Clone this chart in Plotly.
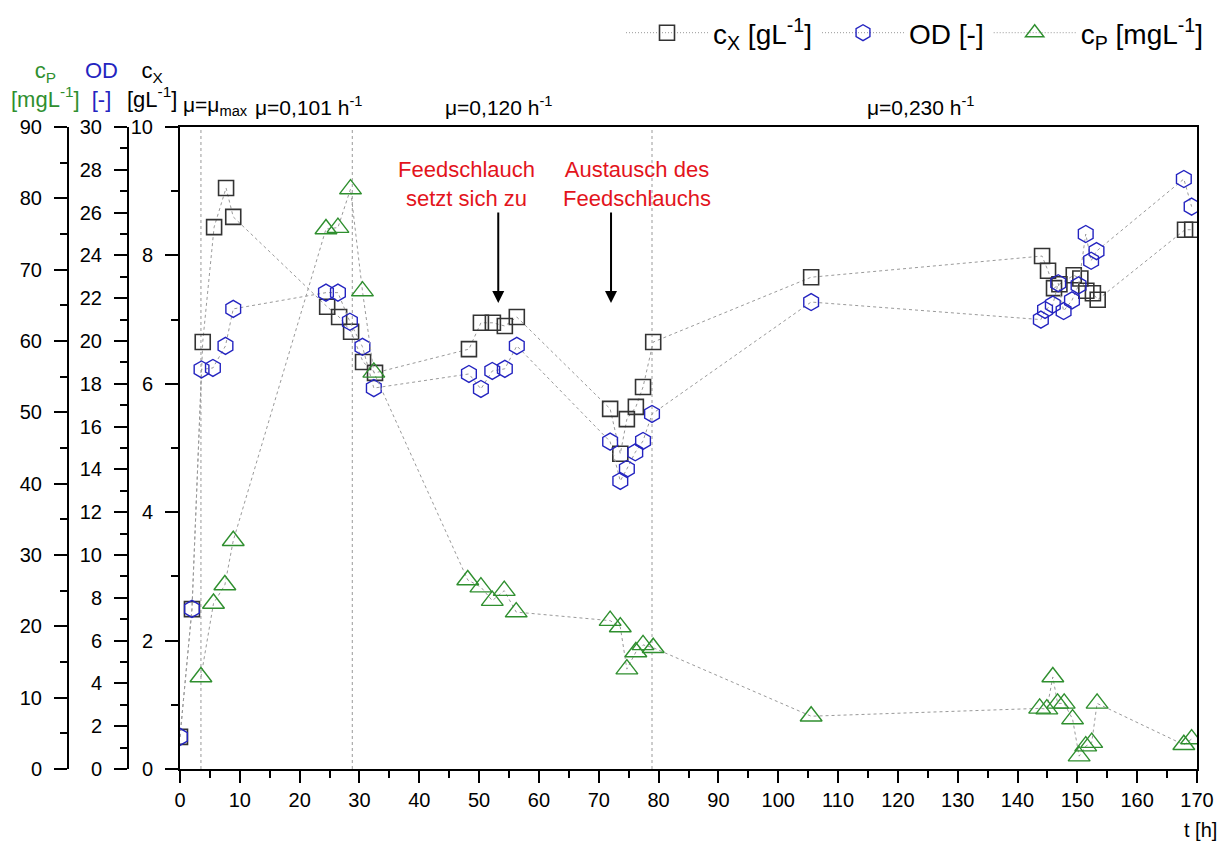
import plotly.graph_objects as go

# ---- data ----
t_cx = [0.0, 2.0, 3.8, 5.7, 7.7, 8.9, 24.6, 26.6, 28.6, 30.6, 32.6, 48.3, 50.3, 52.3, 54.3, 56.3,
        71.9, 73.6, 74.7, 76.2, 77.4, 79.1, 105.5, 144.1, 145.1, 146.1, 147.0, 149.4, 150.5,
        151.5, 152.6, 153.4, 168.0, 169.2]
cx = [0.5, 2.49, 6.65, 8.44, 9.05, 8.6, 7.2, 7.04, 6.81, 6.34, 6.17, 6.54, 6.95, 6.95, 6.9, 7.04,
      5.61, 4.91, 5.45, 5.64, 5.95, 6.65, 7.66, 7.99, 7.76, 7.49, 7.55, 7.69, 7.64,
      7.45, 7.41, 7.31, 8.4, 8.4]

t_od = [0.0, 2.0, 3.6, 5.5, 7.6, 8.9, 24.4, 26.4, 28.4, 30.5, 32.4, 48.3, 50.3, 52.2, 54.3, 56.3,
        71.9, 73.6, 74.7, 76.1, 77.4, 78.9, 105.5, 143.9, 144.6, 145.9, 146.8, 147.7, 149.1,
        150.2, 151.4, 152.3, 153.2, 167.8, 169.1]
od = [1.5, 7.48, 18.67, 18.74, 19.77, 21.5, 22.26, 22.26, 20.9, 19.73, 17.8, 18.46, 17.76, 18.6, 18.7, 19.77,
      15.3, 13.46, 14.02, 14.8, 15.33, 16.59, 21.82, 21.0, 21.45, 21.7, 22.7, 21.4, 21.9,
      22.6, 25.0, 23.75, 24.2, 27.57, 26.28]

t_cp = [3.5, 5.6, 7.5, 8.9, 24.4, 26.4, 28.5, 30.5, 32.4, 48.1, 50.3, 52.2, 54.2, 56.2,
        71.9, 73.6, 74.7, 76.2, 77.4, 79.1, 105.5, 143.7, 144.9, 145.9, 146.7, 147.8, 149.2,
        150.3, 151.4, 152.4, 153.3, 167.8, 169.1]
cp = [12.9, 23.2, 25.8, 32.0, 75.7, 75.9, 81.3, 67.0, 55.6, 26.5, 25.5, 23.6, 25.0, 22.0,
      20.8, 19.9, 14.0, 16.4, 17.4, 17.0, 7.4, 8.5, 8.4, 12.9, 9.2, 9.2, 7.0,
      1.8, 3.2, 3.7, 9.2, 3.4, 4.2]

series_names = ["c<sub>X</sub> [gL<sup>-1</sup>]", "OD [-]", "c<sub>P</sub> [mgL<sup>-1</sup>]"]

phase_boundaries = [3.5, 28.8, 78.9]
phase_labels = ["μ=μ<sub>max</sub>", "μ=0,101 h<sup>-1</sup>", "μ=0,120 h<sup>-1</sup>", "μ=0,230 h<sup>-1</sup>"]
phase_label_px = [181, 253, 443, 865]

event_texts = ["Feedschlauch<br>setzt sich zu", "Austausch des<br>Feedschlauchs"]
event_text_px = [466, 637]
arrow_t = [53.2, 72.05]
arrow_tip_cx = 7.26

# ---- layout geometry ----
W, H = 1228, 843
ML, MR, MT, MB = 0, 31, 127, 74
PW = W - ML - MR
PH = H - MT - MB
FONT = "Liberation Sans, Arial, sans-serif"

def px(x):
    return (x - ML) / PW

def py(y):
    return (H - MB - y) / PH

line_style = dict(color="#9a9a9a", width=1, dash="dot")
legend_line = dict(color="#8c8c8c", width=0.9, dash="1px,2px")

marker_cx = dict(symbol="square-open", size=15, color="#333333", line=dict(width=1.6, color="#333333"))
marker_od = dict(symbol="hexagon-open", size=17, color="#2424c0", line=dict(width=1.4, color="#2424c0"))
marker_cp = dict(symbol="triangle-up-open", size=19, color="#2f8f2f", line=dict(width=1.4, color="#2f8f2f"))

fig = go.Figure()
fig.add_trace(go.Scatter(x=t_cx, y=cx, mode="lines+markers", name=series_names[0],
                         line=line_style, yaxis="y", marker=marker_cx, showlegend=False))
fig.add_trace(go.Scatter(x=t_od, y=od, mode="lines+markers", name=series_names[1],
                         line=line_style, yaxis="y2", marker=marker_od, showlegend=False))
fig.add_trace(go.Scatter(x=t_cp, y=cp, mode="lines+markers", name=series_names[2],
                         line=line_style, yaxis="y3", marker=marker_cp, showlegend=False))
# legend entries (thin dotted line + marker, as in the original key)
for nm, mk in zip(series_names, [marker_cx, marker_od, marker_cp]):
    fig.add_trace(go.Scatter(x=[None], y=[None], mode="lines+markers", name=nm,
                             line=legend_line, marker=mk, showlegend=True))

tickfont = dict(family=FONT, size=20, color="black")
minor_y = dict(ticks="outside", ticklen=7, tickwidth=2, tickcolor="black")
common_y = dict(showgrid=False, zeroline=False, showline=True, linecolor="black", linewidth=2,
                ticks="outside", ticklen=13, tickwidth=2, tickcolor="black", tickfont=tickfont,
                automargin=False, ticklabelstandoff=8)

fig.update_layout(
    width=W, height=H,
    margin=dict(l=ML, r=MR, t=MT, b=MB, autoexpand=False),
    paper_bgcolor="white", plot_bgcolor="white",
    font=dict(family=FONT, color="black"),
    xaxis=dict(domain=[px(180), 1], range=[0, 170], dtick=10, tick0=0, automargin=False,
               showgrid=False, zeroline=False, showline=True, linecolor="black", linewidth=2,
               mirror=True, ticks="outside", ticklen=12, tickwidth=2, tickcolor="black",
               tickfont=tickfont,
               minor=dict(dtick=5, ticks="outside", ticklen=7, tickwidth=2, tickcolor="black")),
    yaxis=dict(range=[0, 10], dtick=2, anchor="x", mirror=True,
               minor=dict(dtick=1, **minor_y), **common_y),
    yaxis2=dict(range=[0, 30], dtick=2, overlaying="y", anchor="free", position=px(128), side="left",
                minor=dict(dtick=1, **minor_y), **common_y),
    yaxis3=dict(range=[0, 90], dtick=10, overlaying="y", anchor="free", position=px(68), side="left",
                minor=dict(dtick=5, **minor_y), **common_y),
    legend=dict(orientation="h", x=px(1208), xanchor="right", y=py(33), yanchor="middle",
                font=dict(family=FONT, size=28, color="black"), bgcolor="rgba(0,0,0,0)",
                itemwidth=82),
    showlegend=True,
)

for tb in phase_boundaries:
    fig.add_shape(type="line", xref="x", yref="paper", x0=tb, x1=tb, y0=0, y1=1,
                  line=dict(color="#9a9a9a", width=1, dash="dot"), layer="below")

annotations = []
for lab, xp in zip(phase_labels, phase_label_px):
    annotations.append(dict(text=lab, xref="paper", yref="paper", x=px(xp), y=py(106),
                            xanchor="left", yanchor="middle", showarrow=False,
                            font=dict(family=FONT, size=21, color="black")))
for txt, xp in zip(event_texts, event_text_px):
    annotations.append(dict(text=txt, xref="paper", yref="paper", x=px(xp), y=py(184),
                            xanchor="center", yanchor="middle", showarrow=False,
                            font=dict(family=FONT, size=22, color="#e3141c")))
for ta in arrow_t:
    annotations.append(dict(text="", xref="x", yref="y", x=ta, y=arrow_tip_cx,
                            ax=0, ay=-92, showarrow=True, arrowhead=2, arrowsize=1.2,
                            arrowwidth=2, arrowcolor="black"))
# axis titles
annotations.append(dict(text="c<sub>P</sub><br>[mgL<sup>-1</sup>]", xref="paper", yref="paper",
                        x=px(45), y=py(85), xanchor="center", yanchor="middle", showarrow=False,
                        font=dict(family=FONT, size=22, color="#2f8f2f")))
annotations.append(dict(text="OD<br>[-]", xref="paper", yref="paper",
                        x=px(101), y=py(85), xanchor="center", yanchor="middle", showarrow=False,
                        font=dict(family=FONT, size=22, color="#2424c0")))
annotations.append(dict(text="c<sub>X</sub><br>[gL<sup>-1</sup>]", xref="paper", yref="paper",
                        x=px(152), y=py(85), xanchor="center", yanchor="middle", showarrow=False,
                        font=dict(family=FONT, size=22, color="black")))
annotations.append(dict(text="t [h]", xref="paper", yref="paper",
                        x=px(1219), y=py(830), xanchor="right", yanchor="middle", showarrow=False,
                        font=dict(family=FONT, size=20, color="black")))
fig.update_layout(annotations=annotations)

fig.write_html("out.html")
